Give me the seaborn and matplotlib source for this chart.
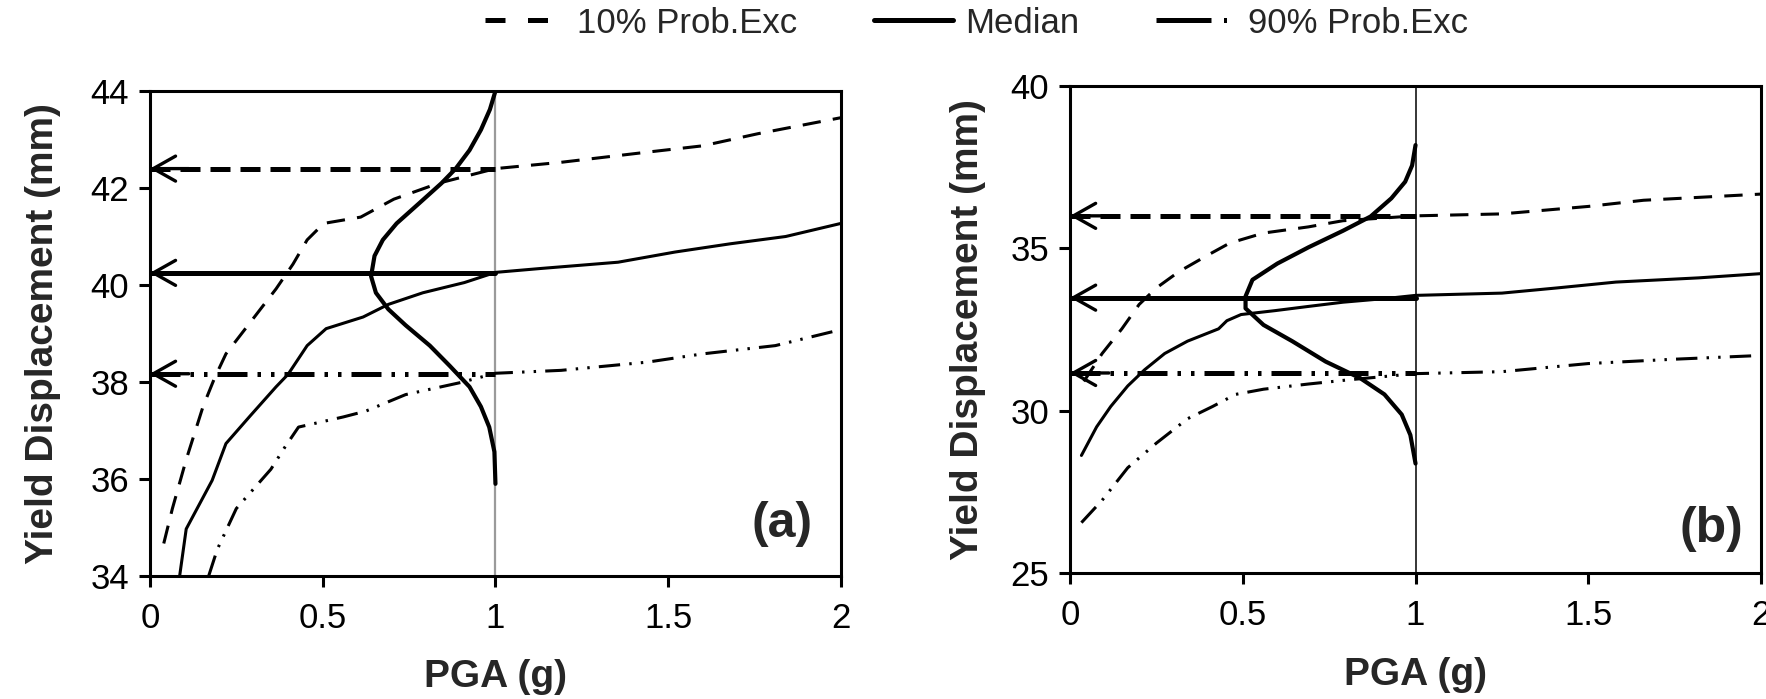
import matplotlib
matplotlib.use("Agg")
import matplotlib.pyplot as plt
from matplotlib.lines import Line2D
import seaborn as sns
import pandas as pd

# ---------------- data ----------------
# Panel (a)
a_med_x = [0.086, 0.105, 0.18, 0.22, 0.29, 0.365, 0.40, 0.455, 0.51, 0.617, 0.69, 0.79, 0.91, 1.0, 1.13, 1.355, 1.52, 1.68, 1.84, 2.0]
a_med_y = [34.0, 34.97, 35.97, 36.73, 37.3, 37.9, 38.16, 38.75, 39.1, 39.34, 39.6, 39.84, 40.05, 40.26, 40.34, 40.47, 40.68, 40.85, 41.0, 41.27]
a_p10_x = [0.04, 0.065, 0.105, 0.154, 0.187, 0.22, 0.284, 0.365, 0.414, 0.455, 0.503, 0.61, 0.706, 0.836, 1.0, 1.19, 1.44, 1.6, 1.76, 2.0]
a_p10_y = [34.67, 35.39, 36.4, 37.5, 38.08, 38.58, 39.17, 39.92, 40.43, 40.93, 41.27, 41.4, 41.77, 42.1, 42.4, 42.53, 42.74, 42.87, 43.12, 43.45]
a_p90_x = [0.17, 0.195, 0.25, 0.35, 0.39, 0.43, 0.56, 0.625, 0.74, 0.90, 1.0, 1.19, 1.44, 1.6, 1.81, 2.0]
a_p90_y = [34.0, 34.55, 35.39, 36.2, 36.65, 37.07, 37.28, 37.4, 37.74, 37.99, 38.18, 38.24, 38.41, 38.58, 38.75, 39.08]
a_bell_x = [1.0, 0.984, 0.958, 0.925, 0.885, 0.844, 0.78, 0.714, 0.674, 0.65, 0.64, 0.654, 0.69, 0.74, 0.81, 0.868, 0.925, 0.958, 0.982, 0.997, 1.0]
a_bell_y = [44.0, 43.62, 43.2, 42.78, 42.4, 42.1, 41.69, 41.27, 40.93, 40.6, 40.18, 39.84, 39.5, 39.17, 38.75, 38.33, 37.9, 37.49, 37.07, 36.56, 35.9]
a_levels = {"p10": 42.4, "med": 40.25, "p90": 38.17}

# Panel (b)
b_med_x = [0.033, 0.077, 0.118, 0.167, 0.216, 0.274, 0.34, 0.43, 0.454, 0.495, 0.593, 0.69, 0.79, 0.92, 1.0, 1.25, 1.41, 1.58, 1.82, 2.0]
b_med_y = [28.62, 29.5, 30.13, 30.76, 31.26, 31.76, 32.14, 32.52, 32.77, 32.96, 33.08, 33.21, 33.34, 33.46, 33.55, 33.62, 33.78, 33.96, 34.09, 34.22]
b_p10_x = [0.04, 0.093, 0.15, 0.2, 0.25, 0.315, 0.397, 0.462, 0.56, 0.69, 0.79, 1.0, 1.25, 1.5, 1.66, 2.0]
b_p10_y = [30.9, 31.76, 32.52, 33.27, 33.78, 34.28, 34.78, 35.16, 35.47, 35.66, 35.85, 36.0, 36.06, 36.29, 36.48, 36.67]
b_p90_x = [0.033, 0.093, 0.167, 0.25, 0.34, 0.413, 0.479, 0.56, 0.69, 0.807, 1.0, 1.25, 1.5, 1.74, 2.0]
b_p90_y = [26.55, 27.24, 28.24, 29.0, 29.75, 30.13, 30.5, 30.66, 30.82, 30.95, 31.14, 31.2, 31.45, 31.58, 31.7]
b_bell_x = [1.0, 0.99, 0.97, 0.93, 0.87, 0.79, 0.69, 0.60, 0.528, 0.508, 0.508, 0.56, 0.643, 0.74, 0.84, 0.91, 0.96, 0.985, 1.0]
b_bell_y = [38.18, 37.55, 37.05, 36.54, 35.98, 35.54, 35.03, 34.53, 34.03, 33.52, 33.15, 32.64, 32.14, 31.51, 31.0, 30.5, 29.88, 29.25, 28.37]
b_levels = {"p10": 36.0, "med": 33.48, "p90": 31.16}

PGA_REF = 1.0
x_ticks = [0, 0.5, 1, 1.5, 2]
x_ticklabels = ["0", "0.5", "1", "1.5", "2"]
a_yticks = [34, 36, 38, 40, 42, 44]
b_yticks = [25, 30, 35, 40]
series_labels = ["10% Prob.Exc", "Median", "90% Prob.Exc"]
panel_tags = ["(a)", "(b)"]

# ---------------- style ----------------
sns.set_style("ticks")
plt.rcParams["font.family"] = ["Liberation Sans", "DejaVu Sans"]
plt.rcParams["axes.linewidth"] = 2.2

DASH = (0, (6, 4))
DASHDOTDOT = (0, (7, 3, 0.8, 3, 0.8, 3))
ARROW_DASH = (0, (4, 2))
ARROW_DDOT = (0, (6, 2, 0.7, 2, 0.7, 2))

fig = plt.figure(figsize=(17.66, 6.99), dpi=100)
ax_a = fig.add_axes([0.0849, 0.176, 0.3913, 0.6938])
ax_b = fig.add_axes([0.6059, 0.1803, 0.3913, 0.6967])


def draw_panel(ax, med, p10, p90, bell, levels, yticks, tag, vcolor, vlw, ylab_x, tag_pos):
    ax.axvline(PGA_REF, color=vcolor, lw=vlw, zorder=1)
    curves = [(p10, DASH), (med, "-"), (p90, DASHDOTDOT)]
    for (cx, cy), ls in curves:
        df = pd.DataFrame({"x": cx, "y": cy})
        sns.lineplot(data=df, x="x", y="y", sort=False, estimator=None, ax=ax,
                     color="black", lw=2.2, linestyle=ls, zorder=3)
    bdf = pd.DataFrame({"x": bell[0], "y": bell[1]})
    sns.lineplot(data=bdf, x="x", y="y", sort=False, estimator=None, ax=ax,
                 color="black", lw=3.0, zorder=4)
    x0 = x_ticks[0]
    for key, ls in [("p10", ARROW_DASH), ("med", "-"), ("p90", ARROW_DDOT)]:
        v = levels[key]
        adf = pd.DataFrame({"x": [x0, PGA_REF], "y": [v, v]})
        sns.lineplot(data=adf, x="x", y="y", sort=False, estimator=None, ax=ax,
                     color="black", lw=3.6, linestyle=ls, zorder=5)
        ax.annotate("", xy=(x0, v), xytext=(28, 0), textcoords="offset points",
                    arrowprops=dict(arrowstyle="->,head_length=0.8,head_width=0.45",
                                    lw=2.4, color="black", shrinkA=0, shrinkB=0,
                                    mutation_scale=20), zorder=6)
    ax.set_xlim(x_ticks[0], x_ticks[-1])
    ax.set_ylim(yticks[0], yticks[-1])
    ax.set_xticks(x_ticks)
    ax.set_xticklabels(x_ticklabels)
    ax.set_yticks(yticks)
    ax.set_yticklabels([str(t) for t in yticks])
    ax.tick_params(axis="both", direction="out", length=8, width=2.2,
                   labelsize=25, pad=7, colors="black")
    ax.tick_params(axis="x", pad=11)
    for s in ax.spines.values():
        s.set_visible(True)
        s.set_linewidth(2.2)
        s.set_color("black")
    ax.set_xlabel("PGA (g)", fontsize=28, fontweight="bold")
    ax.set_ylabel("Yield Displacement (mm)", fontsize=28, fontweight="bold")
    ax.yaxis.set_label_coords(ylab_x, 0.5)
    ax.xaxis.set_label_coords(0.5, -0.172)
    ax.text(tag_pos[0], tag_pos[1], tag, transform=ax.transAxes, ha="right",
            va="center", fontsize=36, fontweight="bold")
    ax.set_facecolor("white")


draw_panel(ax_a, (a_med_x, a_med_y), (a_p10_x, a_p10_y), (a_p90_x, a_p90_y),
           (a_bell_x, a_bell_y), a_levels, a_yticks, panel_tags[0],
           "#9a9a9a", 1.6, -0.129, (0.959, 0.107))
draw_panel(ax_b, (b_med_x, b_med_y), (b_p10_x, b_p10_y), (b_p90_x, b_p90_y),
           (b_bell_x, b_bell_y), b_levels, b_yticks, panel_tags[1],
           "black", 1.1, -0.122, (0.974, 0.09))

handles = [
    Line2D([], [], color="black", lw=3.6, linestyle=(0, (4, 4.5))),
    Line2D([], [], color="black", lw=3.6, linestyle="-"),
    Line2D([], [], color="black", lw=3.6, linestyle=(0, (11, 2.5, 0.6, 6))),
]
fig.legend(handles, series_labels, loc="center", bbox_to_anchor=(0.553, 0.967),
           ncol=3, frameon=False, fontsize=25, handlelength=2.3,
           columnspacing=2.2, handletextpad=0.35)

fig.savefig("out.png", dpi=100, facecolor="white")
